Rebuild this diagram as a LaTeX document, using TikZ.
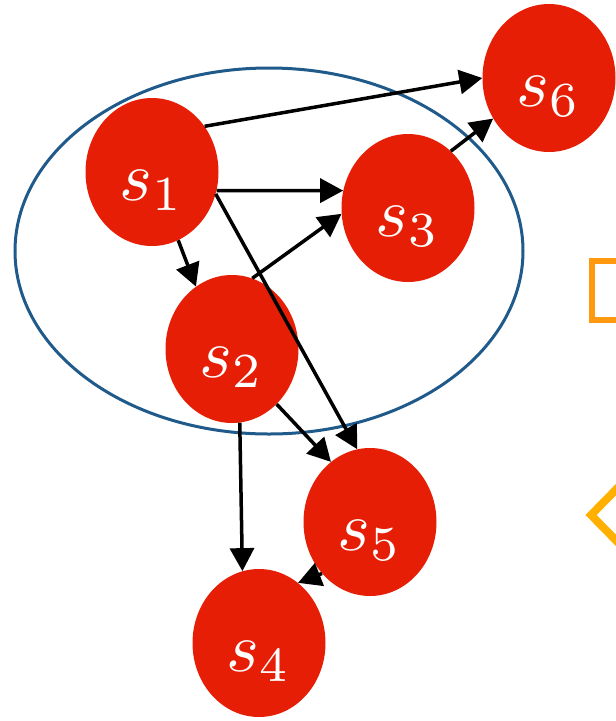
\documentclass[tikz,border=0pt]{standalone}
\usepackage{graphicx}
\usetikzlibrary{arrows.meta,shapes.geometric}
\definecolor{nodered}{HTML}{E61E05}
\definecolor{setblue}{HTML}{1F5A8A}
\definecolor{sqorange}{HTML}{FF9A10}
\definecolor{dmamber}{HTML}{FFB000}
% state label: large italic s with index, baseline sitting below the node centre
\newcommand{\statelabel}[1]{\raisebox{-28pt}[0pt][0pt]{\scalebox{7}{$s_{#1}$}}}
\begin{document}
\begin{tikzpicture}[x=1pt,y=-1pt,
  state/.style={ellipse,fill=nodered,draw=none,minimum width=133pt,minimum height=148pt,inner sep=0pt,
    text=white},
  link/.style={line width=3.5pt,-{Triangle[length=23pt,width=24pt]}},
]
\useasboundingbox (0,0) rectangle (616,721);
% the set containing s1, s2, s3
\draw[setblue,line width=3pt] (269,251) ellipse [x radius=254, y radius=183];
% states
\node[state] (s1) at (152,172) {\statelabel{1}};
\node[state] (s2) at (232,349) {\statelabel{2}};
\node[state] (s3) at (408,208) {\statelabel{3}};
\node[state] (s5) at (370,522) {\statelabel{5}};
\node[state] (s4) at (259,643) {\statelabel{4}};
\node[state] (s6) at (549,78)  {\statelabel{6}};
% transitions
\draw[link] (s1.41) -- (s6.180);
\draw[link] (s1.-16) -- (s3.165);
\draw[link] (s1.-69) -- (s2.120);
\draw[link] (s1.-19) -- (s5.100);
\draw[link] (s2.74) -- (s3.185);
\draw[link] (s3.53) -- (s6.216);
\draw[link] (s2.-51) -- (s5.123);
\draw[link] (s2.-84) -- (s4.103);
\draw[link] (s5.-133) -- (s4.57);
% partly visible shapes at the right margin
\draw[sqorange,line width=6pt] (592,261) rectangle (660,320);
\draw[dmamber,line width=8pt] (650,455) -- (591,515) -- (650,575);
\end{tikzpicture}
\end{document}
